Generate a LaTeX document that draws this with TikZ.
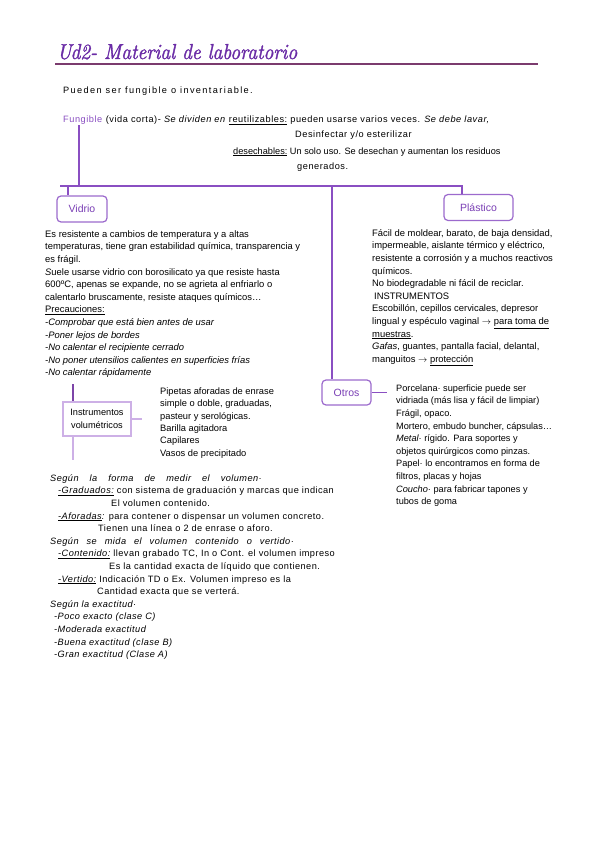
\documentclass[tikz,border=0pt]{standalone}
\usepackage{fontspec}
\newfontfamily\bodyfont{Liberation Sans}
\newfontfamily\topfont[LetterSpace=6]{Liberation Sans}
\newfontfamily\introfont[LetterSpace=15]{Liberation Sans}
\newfontfamily\lowfont[LetterSpace=5]{Liberation Sans}
\newfontfamily\titlefont[FakeBold=1.6]{Latin Modern Roman}
\usetikzlibrary{calc}
\definecolor{lin}{HTML}{8A4FC2}
\definecolor{boxc}{HTML}{9C6ACD}
\definecolor{boxtxt}{HTML}{7A3FB5}
\definecolor{titlec}{HTML}{6A2CA6}
\definecolor{rulec}{HTML}{7B3B6E}
\definecolor{lav}{HTML}{CDB0E6}
\definecolor{stubd}{HTML}{7D45A8}
\newcommand{\fst}{\rule{0pt}{9pt}}
\newcommand{\wide}[2]{{\spaceskip=#1 plus 1pt\relax #2}}
\tikzset{
  txt/.style={inner sep=0pt, font=\bodyfont\fontsize{9.4}{12.6}\selectfont, align=left, anchor=north west},
  oneline/.style={inner sep=0pt, font=\topfont\fontsize{9.2}{12.6}\selectfont, anchor=base west},
  conn/.style={draw=lin, line width=1.4pt},
  catbox/.style={draw=boxc, line width=1.2pt, rounded corners=4pt, text=boxtxt,
    font=\bodyfont\fontsize{10.5}{12}\selectfont, inner sep=0pt},
  instbox/.style={draw=lav, line width=1.4pt, inner sep=0pt, align=center,
    font=\bodyfont\fontsize{9.2}{13.5}\selectfont},
}
\begin{document}
\begin{tikzpicture}[x=1pt,y=-1pt]
\useasboundingbox[fill=white] (0,0) rectangle (599,848);

% title
\node[inner sep=0pt, anchor=base west, text=titlec] (title) at (57,59)
  {\resizebox{240pt}{15pt}{\titlefont\itshape Ud2- Material de laboratorio}};
\coordinate (rulel) at (55,64);
\coordinate (ruler) at (538,64);
\draw[rulec, line width=1.8pt] (rulel) -- (ruler);

\node[oneline, font=\introfont\fontsize{9.2}{12.6}\selectfont] (intro) at (63,94) {Pueden ser fungible o inventariable.};

% fungible lines
\node[oneline, text=lin] (fungword) at (63,123) {Fungible};
\node[oneline] (fung1) at ([xshift=3pt]fungword.base east)
  {(vida corta)- \textit{Se dividen en} \underline{reutilizables:} pueden usarse varios veces. \textit{Se debe lavar,}};
\node[oneline] (fung2) at (295,138) {Desinfectar y/o esterilizar};
\node[oneline, font=\bodyfont\fontsize{9.2}{12.6}\selectfont] (fung3) at (233,154) {\underline{desechables:} Un solo uso. Se desechan y aumentan los residuos};
\node[oneline] (fung4) at (297,169) {generados.};

% category boxes
\node[catbox, minimum width=50pt, minimum height=26pt] (vidrio) at (82,209) {Vidrio};
\node[catbox, minimum width=69pt, minimum height=26pt] (plastico) at (478.5,207.5) {Plástico};
\node[catbox, minimum width=49pt, minimum height=25pt] (otros) at (346.5,392.5) {Otros};
\node[instbox, minimum width=68pt, minimum height=34pt] (instr) at (97,419) {Instrumentos\\volumétricos};

% connectors
\coordinate (jl) at (60,186);
\coordinate (jr) at (462,186);
\coordinate (jv) at (68,186);
\coordinate (jo) at (332,186);
\coordinate (jf) at (79,186);
\draw[conn] (fungword.south -| jf) -- (jf);
\draw[conn] (jl) -- (jr) -- (plastico.north -| jr);
\draw[conn] (jv) -- (vidrio.north -| jv);
\draw[conn] (jo) -- (otros.north -| jo);
\coordinate (oe) at (387,392.5);
\draw[conn] (otros.east) -- (oe);
\coordinate (it) at (73,384);
\coordinate (ib) at (73,460);
\coordinate (ie) at (142,419);
\draw[stubd, line width=1.4pt] (it) -- (instr.north -| it);
\draw[lav, line width=1.4pt] (instr.south -| ib) -- (ib);
\draw[lav, line width=1.4pt] (instr.east) -- (ie);

% vidrio text
\node[txt] (vidriotxt) at (45,228) {\fst Es resistente a cambios de temperatura y a altas\\
temperaturas, tiene gran estabilidad química, transparencia y\\
es frágil.\\
\textit{S}uele usarse vidrio con borosilicato ya que resiste hasta\\
600ºC, apenas se expande, no se agrieta al enfriarlo o\\
calentarlo bruscamente, resiste ataques químicos…\\
\underline{Precauciones:}\\
\textit{-Comprobar que está bien antes de usar}\\
\textit{-Poner lejos de bordes}\\
\textit{-No calentar el recipiente cerrado}\\
\textit{-No poner utensilios calientes en superficies frías}\\
\textit{-No calentar rápidamente}};

% plastico text
\node[txt] (plastxt) at (372,227) {\fst Fácil de moldear, barato, de baja densidad,\\
impermeable, aislante térmico y eléctrico,\\
resistente a corrosión y a muchos reactivos\\
químicos.\\
No biodegradable ni fácil de reciclar.\\
\hspace*{2pt}INSTRUMENTOS\\
Escobillón, cepillos cervicales, depresor\\
lingual y espéculo vaginal $\rightarrow$ \underline{para toma de}\\
\underline{muestras}.\\
\textit{Gafas}, guantes, pantalla facial, delantal,\\
manguitos $\rightarrow$ \underline{protección}};

% otros text
\node[txt, font=\bodyfont\fontsize{9.2}{12.6}\selectfont] (otrostxt) at (396,382) {\fst Porcelana· superficie puede ser\\
vidriada (más lisa y fácil de limpiar)\\
Frágil, opaco.\\
Mortero, embudo buncher, cápsulas…\\
\textit{Metal·} rígido. Para soportes y\\
objetos quirúrgicos como pinzas.\\
Papel· lo encontramos en forma de\\
filtros, placas y hojas\\
\textit{Coucho·} para fabricar tapones y\\
tubos de goma};

% instrumentos list
\node[txt, font=\bodyfont\fontsize{9.3}{12.4}\selectfont] (instrtxt) at (160,385) {\fst Pipetas aforadas de enrase\\
simple o doble, graduadas,\\
pasteur y serológicas.\\
Barilla agitadora\\
Capilares\\
Vasos de precipitado};

% lower block
\node[txt, font=\lowfont\fontsize{9.2}{12.6}\selectfont] (lower) at (50,472) {\fst\textit{\wide{11pt}{Según la forma de medir el volumen·}}\\
\hspace*{8pt}\textit{\underline{-Graduados:}} con sistema de graduación y marcas que indican\\
\hspace*{61pt}El volumen contenido.\\
\hspace*{8pt}\textit{\underline{-Aforadas}:} para contener o dispensar un volumen concreto.\\
\hspace*{48pt}Tienen una línea o 2 de enrase o aforo.\\
\textit{\wide{8pt}{Según se mida el volumen contenido o vertido·}}\\
\hspace*{8pt}\textit{\underline{-Contenido:}} llevan grabado TC, In o Cont. el volumen impreso\\
\hspace*{59pt}Es la cantidad exacta de líquido que contienen.\\
\hspace*{8pt}\textit{\underline{-Vertido:}} Indicación TD o Ex. Volumen impreso es la\\
\hspace*{47pt}Cantidad exacta que se verterá.\\
\textit{Según la exactitud·}\\
\hspace*{4pt}\textit{-Poco exacto (clase C)}\\
\hspace*{4pt}\textit{-Moderada exactitud}\\
\hspace*{4pt}\textit{-Buena exactitud (clase B)}\\
\hspace*{4pt}\textit{-Gran exactitud (Clase A)}};
\end{tikzpicture}
\end{document}
